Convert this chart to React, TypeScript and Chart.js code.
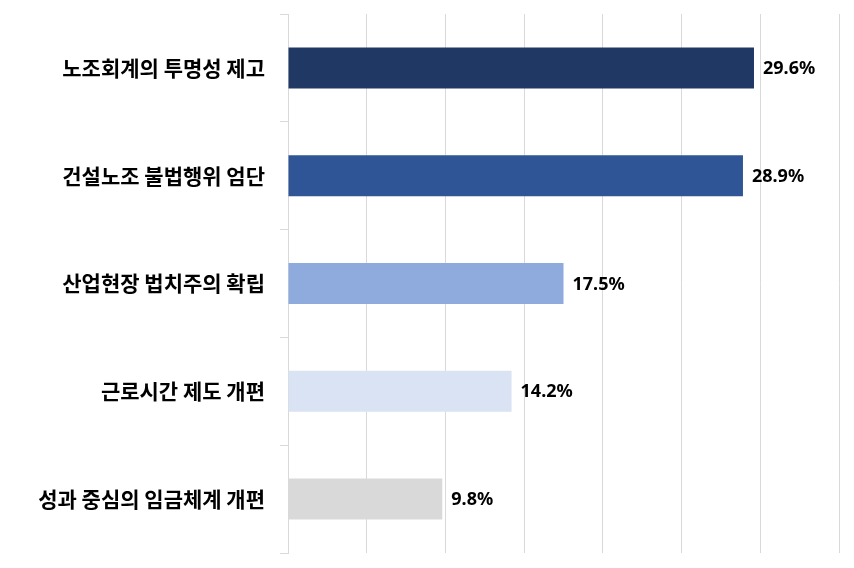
import { useRef, useEffect } from "react"
import { Chart, registerables } from "chart.js"

Chart.register(...registerables)

const categories = [
  "노조회계의 투명성 제고",
  "건설노조 불법행위 엄단",
  "산업현장 법치주의 확립",
  "근로시간 제도 개편",
  "성과 중심의 임금체계 개편",
]
const values = [29.6, 28.9, 17.5, 14.2, 9.8]
const barColors = ["#203864", "#2F5597", "#8FAADC", "#DAE3F3", "#D9D9D9"]

const valueLabels = {
  id: "valueLabels",
  afterDatasetsDraw(chart: Chart) {
    const ctx = chart.ctx
    const meta = chart.getDatasetMeta(0)
    ctx.save()
    ctx.font = "bold 18px 'Noto Sans', 'Noto Sans CJK KR', sans-serif"
    ctx.fillStyle = "#000"
    ctx.textAlign = "left"
    ctx.textBaseline = "middle"
    meta.data.forEach((bar: any, i: number) => {
      ctx.fillText(values[i].toFixed(1) + "%", bar.x + 9, bar.y + 1)
    })
    ctx.restore()
  },
}

export default function App() {
  const canvasRef = useRef<HTMLCanvasElement>(null)
  const chartRef = useRef<Chart | null>(null)

  useEffect(() => {
    if (!canvasRef.current) return
    if (chartRef.current) chartRef.current.destroy()

    chartRef.current = new Chart(canvasRef.current, {
      type: "bar",
      data: {
        labels: categories,
        datasets: [
          {
            data: values,
            backgroundColor: barColors,
            borderWidth: 0,
            barPercentage: 0.38,
            categoryPercentage: 1,
          },
        ],
      },
      options: {
        indexAxis: "y",
        animation: false,
        responsive: true,
        maintainAspectRatio: false,
        layout: { padding: { top: 14, bottom: 15, right: 15, left: 0 } },
        plugins: {
          legend: { display: false },
          tooltip: { enabled: false },
        },
        scales: {
          x: {
            min: 0,
            max: 35,
            ticks: { display: false, stepSize: 5 },
            grid: { color: "#D9D9D9", drawTicks: false },
            border: { display: false },
          },
          y: {
            afterFit: (scale: any) => {
              scale.width = 288
              scale.paddingTop = 0
              scale.paddingBottom = 0
            },
            ticks: {
              color: "#000",
              padding: 15,
              font: { family: "'Noto Sans CJK KR', sans-serif", size: 21, weight: "bold" },
            },
            grid: { drawOnChartArea: false, tickLength: 8, color: "#D9D9D9" },
            border: { display: true, color: "#D9D9D9" },
          },
        },
      },
      plugins: [valueLabels],
    })

    return () => {
      if (chartRef.current) chartRef.current.destroy()
    }
  }, [])

  return (
    <div style={{ position: "fixed", left: 0, top: 0, width: 854, height: 568, background: "#fff" }}>
      <canvas ref={canvasRef} />
    </div>
  )
}
